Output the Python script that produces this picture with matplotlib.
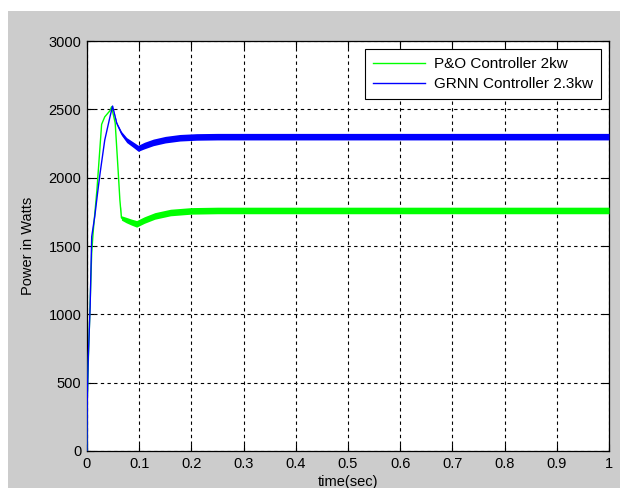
import matplotlib
matplotlib.use("Agg")
import matplotlib.pyplot as plt
from matplotlib.patches import Rectangle
import numpy as np

# ---- data ----
t_po = [0.0, 0.0005, 0.003, 0.006, 0.009, 0.012, 0.019, 0.028, 0.034, 0.044, 0.047,
        0.054, 0.060, 0.063, 0.066, 0.075, 0.085, 0.095, 0.11, 0.13, 0.16, 0.20, 0.25, 1.0]
p_po = [0, 380, 720, 1080, 1450, 1610, 1910, 2390, 2445, 2490, 2519,
        2400, 2030, 1836, 1705, 1690, 1675, 1662, 1690, 1720, 1745, 1757, 1760, 1760]
hw_po = [0, 0, 0, 0, 0, 0, 0, 0, 0, 0, 0,
         0, 0, 0, 16, 20, 22, 24, 24, 24, 24, 24, 24, 24]

t_grnn = [0.0, 0.0005, 0.0025, 0.006, 0.009, 0.015, 0.020, 0.025, 0.034, 0.044, 0.049,
          0.057, 0.066, 0.076, 0.089, 0.098, 0.11, 0.127, 0.15, 0.178, 0.21, 0.25, 1.0]
p_grnn = [0, 370, 690, 1055, 1568, 1720, 1880, 2031, 2275, 2445, 2524,
          2397, 2324, 2275, 2240, 2215, 2235, 2258, 2278, 2292, 2298, 2300, 2300]
hw_grnn = [0, 0, 0, 0, 0, 0, 0, 0, 0, 0, 0,
           8, 14, 18, 20, 22, 24, 24, 24, 24, 24, 24, 24]

labels = ["P&O Controller 2kw", "GRNN Controller 2.3kw"]
x_ticks = [0, 0.1, 0.2, 0.3, 0.4, 0.5, 0.6, 0.7, 0.8, 0.9, 1]
x_ticklabels = ["0", "0.1", "0.2", "0.3", "0.4", "0.5", "0.6", "0.7", "0.8", "0.9", "1"]
y_ticks = [0, 500, 1000, 1500, 2000, 2500, 3000]

plt.rcParams['font.family'] = ['Liberation Sans', 'DejaVu Sans']
FS = 10.5

fig = plt.figure(figsize=(6.23, 4.88), dpi=100, facecolor='white')
fig.patches.append(Rectangle((8/623, 0), (620-8)/623, (488-11)/488,
                             transform=fig.transFigure, facecolor='#cccccc',
                             edgecolor='none', zorder=-10))
ax = fig.add_axes([87/623, (488-451)/488, (609-87)/623, (451-41)/488])
ax.set_facecolor('white')

green = '#00ff00'
blue = '#0000ff'

tp = np.array(t_po); pp = np.array(p_po); hp = np.array(hw_po)
tg = np.array(t_grnn); pg = np.array(p_grnn); hg = np.array(hw_grnn)

ax.plot(tp, pp, color=green, lw=1.0, label=labels[0], zorder=3)
ax.fill_between(tp, pp - hp, pp + hp, color=green, lw=0, zorder=3)
ax.plot(tg, pg, color=blue, lw=1.0, label=labels[1], zorder=4)
ax.fill_between(tg, pg - hg, pg + hg, color=blue, lw=0, zorder=4)

ax.set_xlim(0, 1)
ax.set_ylim(0, 3000)
ax.set_xticks(x_ticks)
ax.set_xticklabels(x_ticklabels)
ax.set_yticks(y_ticks)
ax.tick_params(direction='in', top=True, right=True, length=5, width=0.8,
               labelsize=FS, colors='black', pad=4)
ax.grid(True, color='black', linestyle=(0, (3, 3)), linewidth=0.8)
ax.set_axisbelow(True)
for s in ax.spines.values():
    s.set_color('black')
    s.set_linewidth(0.9)

ax.set_xlabel("time(sec)", fontsize=FS, labelpad=3)
ax.set_ylabel("Power in Watts", fontsize=FS, labelpad=10)

leg = ax.legend(loc='upper right', fontsize=11, fancybox=False, framealpha=1,
                edgecolor='black', handlelength=3.4, borderaxespad=0.55,
                labelspacing=0.4, borderpad=0.5, handletextpad=0.6)
leg.get_frame().set_linewidth(0.8)

fig.savefig("out.png", dpi=100, facecolor='white')
